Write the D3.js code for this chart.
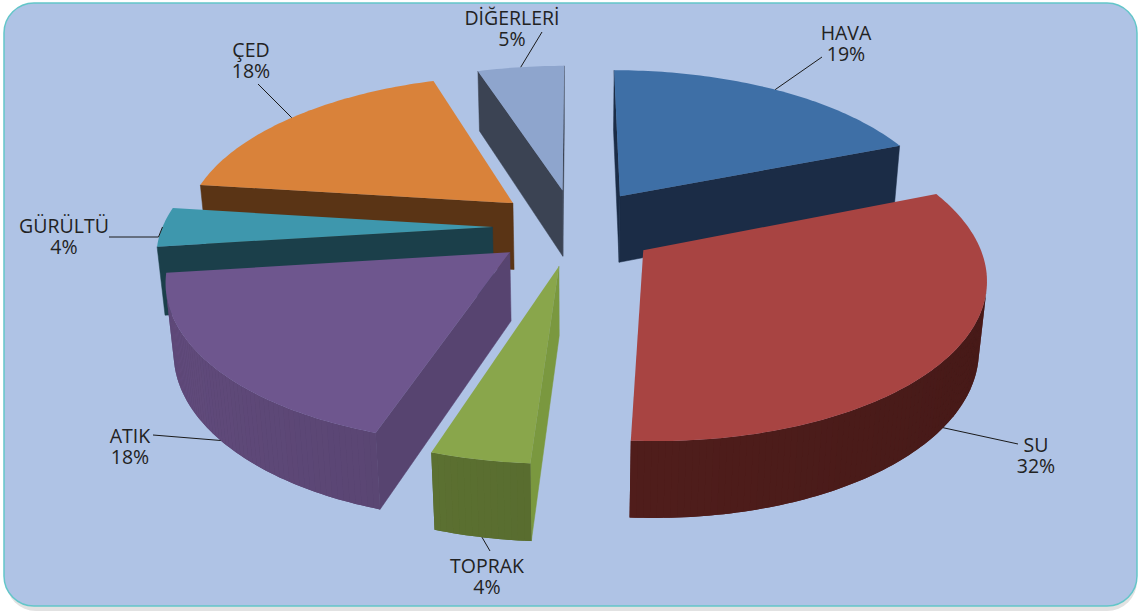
<!DOCTYPE html>
<html>
<head>
<meta charset="utf-8">
<script src="https://cdn.jsdelivr.net/npm/d3@7"></script>
<style>
  body { margin: 0; background: #ffffff; }
  svg { display: block; }
  text { font-family: "Open Sans", "Noto Sans", sans-serif; fill: #222222; }
</style>
</head>
<body>
<div id="chart"></div>
<script>
// data
var categories = ["HAVA", "SU", "TOPRAK", "ATIK", "GÜRÜLTÜ", "ÇED", "DİĞERLERİ"];
var shares = [19, 32, 4, 18, 4, 18, 5];
var percentLabels = ["19%", "32%", "4%", "18%", "4%", "18%", "5%"];

// colours: top face, outer wall, cut side
var topColors  = ["#3e6fa6", "#a84442", "#89a64b", "#6e568e", "#3e97ad", "#d9823a", "#8ea5cd"];
var wallColors = ["#1b2c46", "#4f1d1b", "#586c2f", "#57436f", "#1a3e48", "#5a3415", "#3b4353"];
var sideColors = ["#1b2c46", "#5a2522", "#7a983f", "#574470", "#1b3f4a", "#5a3415", "#3b4353"];

// label layout (centre x, first baseline) and leader end
var labelAt = [[846, 40], [1036, 452], [487, 573], [130, 443], [64, 233], [251, 57], [512, 25]];
var leaderEnd = [[822, 57], [1018, 444], [490, 551], [153, 435], [109, 237], [258, 84], [542, 32]];

var W = 1139, H = 612;

var svg = d3.select("#chart").append("svg")
    .attr("width", W)
    .attr("height", H);

// frame
svg.append("rect")
    .attr("x", 6).attr("y", 6).attr("width", W - 8).attr("height", H - 7)
    .attr("rx", 30).attr("fill", "#e2e2e2");
svg.append("rect")
    .attr("x", 4).attr("y", 3).attr("width", W - 6).attr("height", H - 9)
    .attr("rx", 30).attr("fill", "#afc3e5")
    .attr("stroke", "#63c6c9").attr("stroke-width", 1.5);

// 3d view settings
var cx = 575, cy = 227, K = 330;
var elev = 27.8 * Math.PI / 180, sinE = Math.sin(elev), cosE = Math.cos(elev);
var P = 0.173, camD = 1 / P;
var thick = 0.236, explode = 0.25;

function project(X, Y, Z) {
    var depth = Z * cosE - Y * sinE;
    var up = Z * sinE + Y * cosE;
    var w = 1 + P * depth;
    return [cx + K * X / w, cy - K * up / w];
}

var pie = d3.pie().sort(null).value(function (d) { return d; })
    .startAngle(0).endAngle(2 * Math.PI);
var arcs = pie(shares);

var slices = arcs.map(function (a, i) {
    var mid = (a.startAngle + a.endAngle) / 2;
    return {
        i: i, a0: a.startAngle, a1: a.endAngle, mid: mid,
        ox: explode * Math.sin(mid), oz: explode * Math.cos(mid)
    };
});

var line = d3.line();
var g = svg.append("g");

// back slices first
slices.slice().sort(function (p, q) { return q.oz - p.oz; }).forEach(function (s) {
    var grp = g.append("g");
    var n = Math.max(2, Math.ceil((s.a1 - s.a0) / (Math.PI / 180)));
    var angs = d3.range(n + 1).map(function (k) { return s.a0 + (s.a1 - s.a0) * k / n; });

    function rim(t, y) { return project(s.ox + Math.sin(t), y, s.oz + Math.cos(t)); }
    var apexTop = project(s.ox, 0, s.oz), apexBot = project(s.ox, -thick, s.oz);

    // cut side at start angle
    var vis0 = s.ox * Math.cos(s.a0) - (camD * cosE + s.oz) * Math.sin(s.a0);
    if (vis0 > 0) {
        grp.append("path")
            .attr("d", line([apexTop, rim(s.a0, 0), rim(s.a0, -thick), apexBot]) + "Z")
            .attr("fill", sideColors[s.i]).attr("stroke", sideColors[s.i]).attr("stroke-width", 0.5);
    }
    // cut side at end angle
    var vis1 = -s.ox * Math.cos(s.a1) + (camD * cosE + s.oz) * Math.sin(s.a1);
    if (vis1 > 0) {
        grp.append("path")
            .attr("d", line([apexTop, rim(s.a1, 0), rim(s.a1, -thick), apexBot]) + "Z")
            .attr("fill", sideColors[s.i]).attr("stroke", sideColors[s.i]).attr("stroke-width", 0.5);
    }
    // outer wall, lit from the left
    var segs = [];
    for (var k = 0; k < n; k++) {
        var t0 = angs[k], t1 = angs[k + 1], tm = (t0 + t1) / 2;
        var v = -s.ox * Math.sin(tm) - s.oz * Math.cos(tm) - 1 - camD * cosE * Math.cos(tm);
        if (v > 0) segs.push([t0, t1, tm]);
    }
    if (segs.length) {
        // base band under the shaded strips hides seams
        var topRun = segs.map(function (q) { return rim(q[0], 0); }).concat([rim(segs[segs.length - 1][1], 0)]);
        var botRun = segs.map(function (q) { return rim(q[0], -thick); }).concat([rim(segs[segs.length - 1][1], -thick)]);
        grp.append("path")
            .attr("d", line(topRun.concat(botRun.reverse())) + "Z")
            .attr("fill", wallColors[s.i]);
        segs.forEach(function (q) {
            var c = d3.hsl(wallColors[s.i]);
            c.l = c.l * (1 - 0.12 * Math.sin(q[2]));
            grp.append("path")
                .attr("d", line([rim(q[0], 0), rim(q[1], 0), rim(q[1], -thick), rim(q[0], -thick)]) + "Z")
                .attr("fill", c.toString());
        });
    }
    // top face
    var pts = [apexTop].concat(angs.map(function (t) { return rim(t, 0); }));
    grp.append("path")
        .attr("d", line(pts) + "Z")
        .attr("fill", topColors[s.i]);
});

// leaders and labels
var labels = svg.append("g");
slices.forEach(function (s) {
    var front = Math.cos(s.mid) < -0.3;
    var anchor = project(s.ox + Math.sin(s.mid), front ? -thick : 0, s.oz + Math.cos(s.mid));
    var end = leaderEnd[s.i];
    var pts = [anchor, end];
    if (categories[s.i] === "GÜRÜLTÜ") pts = [anchor, [anchor[0] - 4, end[1]], end];
    labels.append("path")
        .attr("d", line(pts))
        .attr("fill", "none").attr("stroke", "#1a1a1a").attr("stroke-width", 1);

    var t = labels.append("text")
        .attr("text-anchor", "middle")
        .attr("font-size", 19.5)
        .attr("x", labelAt[s.i][0]).attr("y", labelAt[s.i][1]);
    t.append("tspan").attr("x", labelAt[s.i][0]).text(categories[s.i]);
    t.append("tspan").attr("x", labelAt[s.i][0]).attr("dy", 20.5).text(percentLabels[s.i]);
});
</script>
</body>
</html>
